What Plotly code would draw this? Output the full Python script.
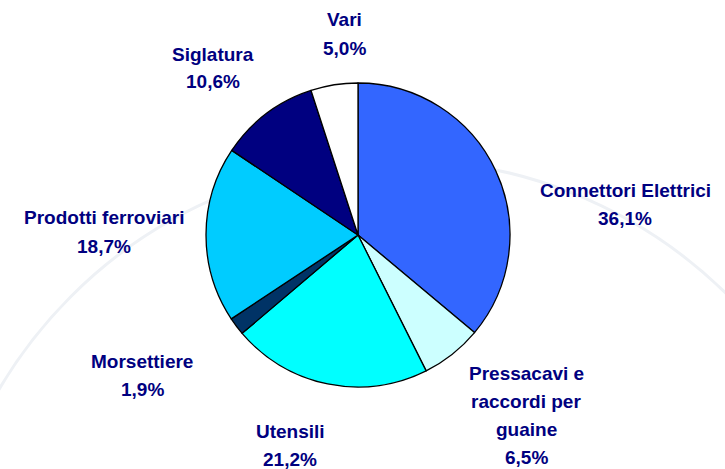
import plotly.graph_objects as go

categories = ["Connettori Elettrici", "Pressacavi e\nraccordi per\nguaine", "Utensili",
              "Morsettiere", "Prodotti ferroviari", "Siglatura", "Vari"]
values = [36.1, 6.5, 21.2, 1.9, 18.7, 10.6, 5.0]
pct_labels = ["36,1%", "6,5%", "21,2%", "1,9%", "18,7%", "10,6%", "5,0%"]
colors = ["#3366FF", "#CCFFFF", "#00FFFF", "#003366", "#00CCFF", "#000080", "#FFFFFF"]

# label placement (pixel centre x, centre y of first line) – layout only
label_pos = [(625, 190.5), (526, 373), (290, 431), (142, 361.5), (104, 218), (213, 54), (344, 20)]
LINE_STEP = 28

W, H = 725, 469
cx, cy, r = 358, 235, 152

fig = go.Figure(go.Pie(
    labels=[c.replace("\n", " ") for c in categories],
    values=values,
    sort=False,
    direction="clockwise",
    rotation=0,
    marker=dict(colors=colors, line=dict(color="black", width=1.3)),
    textinfo="none",
    hoverinfo="label+percent",
    showlegend=False,
    domain=dict(x=[(cx - r) / W, (cx + r) / W], y=[(H - cy - r) / H, (H - cy + r) / H]),
))

font = dict(family="Liberation Sans, Arial, sans-serif", size=19, color="#000080", weight="bold")
for cat, pct, (px, py) in zip(categories, pct_labels, label_pos):
    lines = cat.split("\n") + [pct]
    for i, ln in enumerate(lines):
        fig.add_annotation(
            x=px / W, y=1 - (py + i * LINE_STEP) / H, xref="paper", yref="paper",
            text=ln, showarrow=False, align="center",
            xanchor="center", yanchor="middle", font=font,
        )

# faint decorative background arc
bx, by, br = 400, 625, 465
fig.add_shape(type="circle", xref="paper", yref="paper", layer="below",
              x0=(bx - br) / W, x1=(bx + br) / W, y0=1 - (by + br) / H, y1=1 - (by - br) / H,
              line=dict(color="#EEF1F5", width=3), fillcolor="rgba(0,0,0,0)")

fig.update_layout(
    width=W, height=H,
    margin=dict(l=0, r=0, t=0, b=0),
    paper_bgcolor="white", plot_bgcolor="white",
)

fig.write_html("out.html", config={"displayModeBar": False},
               post_script="document.body.style.margin='0';")
